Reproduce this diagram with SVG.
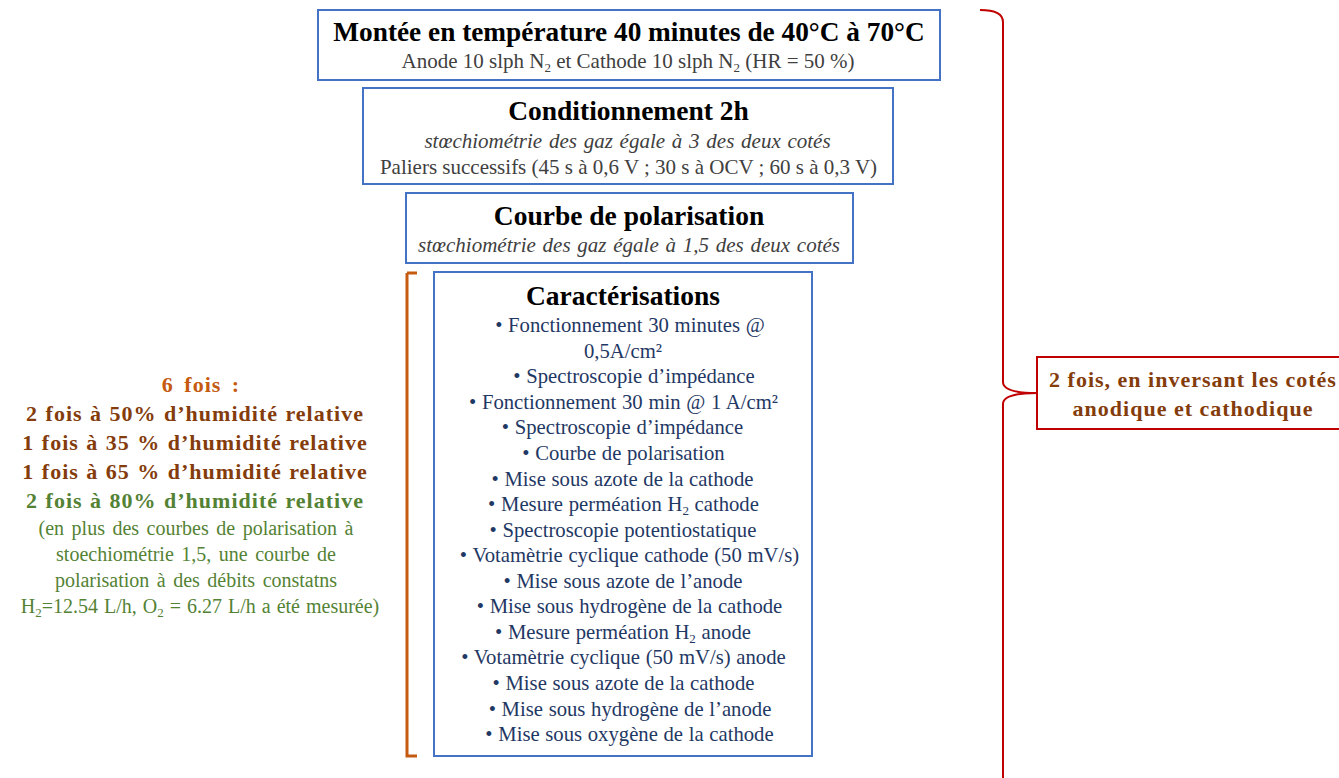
<svg xmlns="http://www.w3.org/2000/svg" width="1339" height="778" viewBox="0 0 1339 778">
<style>
.box{fill:#fff;stroke:#4472C4;stroke-width:2}
text{font-family:"Liberation Serif","Times New Roman",serif;text-anchor:middle}
.t{font-weight:bold;fill:#000;font-size:27.5px}
.g{fill:#404040;font-size:21px}
.i{font-style:italic;word-spacing:1.5px}
.l{fill:#1F3864;font-size:20.7px;word-spacing:0.5px}
.or{fill:#C55A11;font-weight:bold;font-size:22px;letter-spacing:1px;word-spacing:4px}
.br{fill:#843C0C;font-weight:bold;font-size:22px;letter-spacing:1px;word-spacing:1px}
.gr{fill:#548235;font-weight:bold;font-size:22px;letter-spacing:1px;word-spacing:1px}
.grl{fill:#548235;font-size:20px;word-spacing:2.5px}
.rb{fill:#843C0C;font-weight:bold;font-size:22px;letter-spacing:1px}
.sub{font-size:13px}
</style>
<rect width="1339" height="778" fill="#fff"/>
<g id="connectors">
<path d="M407,273 H417 M407,273 V756 H417" fill="none" stroke="#C55A11" stroke-width="3"/>
<path d="M980,10 Q1003,10 1003,22 V382 Q1003,393 1037,393 Q1003,393 1003,404 V778" fill="none" stroke="#C00000" stroke-width="2"/>
</g>
<g id="n1">
<rect class="box" x="318" y="10" width="622" height="70"/>
<text class="t" x="629" y="41" style="font-size:27.3px">Montée en température 40 minutes de 40°C à 70°C</text>
<text class="g" x="628" y="68">Anode 10 slph N<tspan class="sub" dy="4">2</tspan><tspan dy="-4"> et Cathode 10 slph N</tspan><tspan class="sub" dy="4">2</tspan><tspan dy="-4"> (HR = 50 %)</tspan></text>
</g>
<g id="n2">
<rect class="box" x="363" y="88" width="530" height="96"/>
<text class="t" x="628.5" y="120">Conditionnement 2h</text>
<text class="g i" x="627.5" y="148">stœchiométrie des gaz égale à 3 des deux cotés</text>
<text class="g" x="628.5" y="174">Paliers successifs (45 s à 0,6 V ; 30 s à OCV ; 60 s à 0,3 V)</text>
</g>
<g id="n3">
<rect class="box" x="406" y="193" width="447" height="70"/>
<text class="t" x="629" y="225">Courbe de polarisation</text>
<text class="g i" x="629" y="252">stœchiométrie des gaz égale à 1,5 des deux cotés</text>
</g>
<g id="n4">
<rect class="box" x="434" y="272" width="378" height="484"/>
<text class="t" x="623" y="305">Caractérisations</text>
<text class="l" x="630" y="332">• Fonctionnement 30 minutes @</text>
<text class="l" x="623" y="358">0,5A/cm²</text>
<text class="l" x="634" y="383">• Spectroscopie d’impédance</text>
<text class="l" x="623.5" y="409">• Fonctionnement 30 min @ 1 A/cm²</text>
<text class="l" x="622.5" y="434">• Spectroscopie d’impédance</text>
<text class="l" x="623.5" y="460">• Courbe de polarisation</text>
<text class="l" x="622.5" y="486">•  Mise sous azote de la cathode</text>
<text class="l" x="623.5" y="511">• Mesure perméation H<tspan class="sub" dy="4">2</tspan><tspan dy="-4"> cathode</tspan></text>
<text class="l" x="623" y="537">• Spectroscopie potentiostatique</text>
<text class="l" x="629.5" y="562">• Votamètrie cyclique cathode (50 mV/s)</text>
<text class="l" x="623" y="588">• Mise sous azote de l’anode</text>
<text class="l" x="629.5" y="613">• Mise sous hydrogène de la cathode</text>
<text class="l" x="623" y="639">• Mesure perméation H<tspan class="sub" dy="4">2</tspan><tspan dy="-4"> anode</tspan></text>
<text class="l" x="623.5" y="664">• Votamètrie cyclique (50 mV/s) anode</text>
<text class="l" x="623.5" y="690">• Mise sous azote de la cathode</text>
<text class="l" x="630" y="716">• Mise sous hydrogène de l’anode</text>
<text class="l" x="629.5" y="741">• Mise sous oxygène de la cathode</text>
</g>
<g id="n5">
<text class="or" x="201" y="392">6 fois :</text>
<text class="br" x="195" y="421">2 fois à 50% d’humidité relative</text>
<text class="br" x="195" y="450">1 fois à 35 % d’humidité relative</text>
<text class="br" x="195" y="479">1 fois à 65 % d’humidité relative</text>
<text class="gr" x="195" y="508">2 fois à 80% d’humidité relative</text>
<text class="grl" x="196" y="535">(en plus des courbes de polarisation à</text>
<text class="grl" x="196" y="561">stoechiométrie 1,5, une courbe de</text>
<text class="grl" x="196" y="587">polarisation à des débits constatns</text>
<text class="grl" x="200" y="613" style="word-spacing:1px">H<tspan class="sub" dy="4">2</tspan><tspan dy="-4">=12.54 L/h, O</tspan><tspan class="sub" dy="4">2</tspan><tspan dy="-4"> = 6.27 L/h a été mesurée)</tspan></text>
</g>
<g id="n6">
<rect x="1037" y="357" width="310" height="72" fill="#fff" stroke="#C00000" stroke-width="2"/>
<text class="rb" x="1193" y="387">2 fois, en inversant les cotés</text>
<text class="rb" x="1193" y="416">anodique et cathodique</text>
</g>
</svg>
